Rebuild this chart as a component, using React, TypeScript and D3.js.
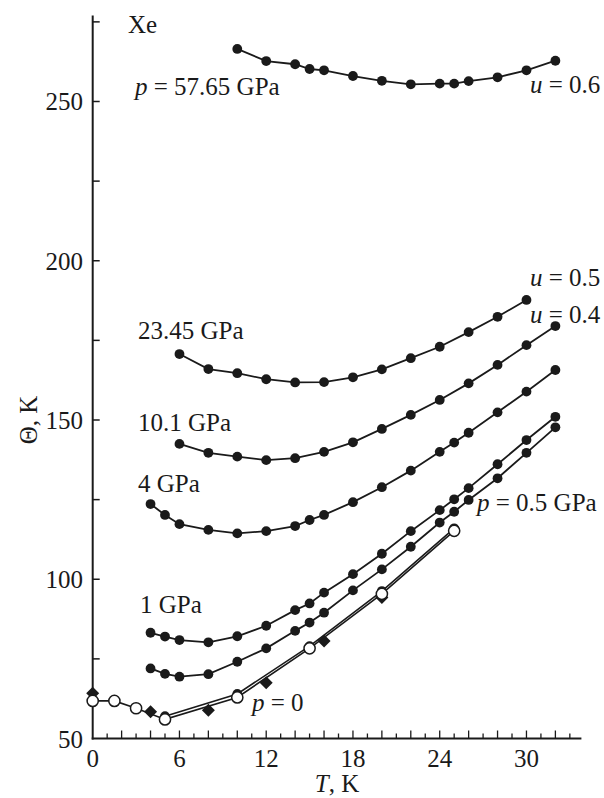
import * as d3 from 'd3';

// Debye temperature of Xe vs T for several pressures
const tFull = [4, 5, 6, 8, 10, 12, 14, 15, 16, 18, 20, 22, 24, 25, 26, 28, 30, 32];
const theta05 = [72.0, 70.3, 69.4, 70.2, 74.1, 78.3, 83.8, 86.4, 89.5, 96.5, 103.1, 110.2, 117.8, 121.2, 124.9, 131.7, 139.7, 147.7];
const theta1 = [83.2, 82.0, 80.9, 80.2, 82.1, 85.4, 90.3, 92.4, 95.8, 101.6, 108.0, 115.1, 121.7, 125.1, 128.6, 136.1, 143.7, 151.0];
const theta4 = [123.6, 120.2, 117.3, 115.5, 114.4, 115.1, 116.7, 118.6, 120.2, 124.2, 128.9, 134.1, 140.0, 142.9, 146.0, 152.4, 158.9, 165.7];

const t101 = [6, 8, 10, 12, 14, 16, 18, 20, 22, 24, 26, 28, 30, 32];
const theta101 = [142.5, 139.7, 138.5, 137.4, 138.0, 140.0, 143.0, 147.2, 151.6, 156.3, 161.5, 167.3, 173.5, 179.5];

const t2345 = [6, 8, 10, 12, 14, 16, 18, 20, 22, 24, 26, 28, 30];
const theta2345 = [170.7, 166.0, 164.7, 162.8, 161.8, 161.9, 163.4, 165.9, 169.4, 173.0, 177.6, 182.4, 187.7];

const t5765 = [10, 12, 14, 15, 16, 18, 20, 22, 24, 25, 26, 28, 30, 32];
const theta5765 = [266.5, 262.7, 261.7, 260.2, 259.8, 258.0, 256.5, 255.4, 255.6, 255.6, 256.4, 257.6, 259.8, 262.8];

// p = 0: two calculations (filled / open) and experiment (diamonds)
const tZeroFilled = [5, 10, 15, 20, 25];
const thetaZeroFilled = [57.0, 64.0, 79.0, 96.3, 116.0];
const tZeroOpen = [0, 1.5, 3, 5, 10, 15, 20, 25];
const thetaZeroOpen = [61.8, 61.8, 59.5, 56.0, 62.9, 78.3, 95.4, 115.2];
const tExp = [0, 4, 8, 12, 16, 20];
const thetaExp = [64.2, 58.4, 58.9, 67.5, 80.6, 94.3];

const xTickLabels = [0, 6, 12, 18, 24, 30];
const yTickLabels = [50, 100, 150, 200, 250];

const W = 604;
const H = 798;
const FONT = "'Liberation Serif', 'Times New Roman', serif";
const FS = 25;
const INK = '#1a1a1a';
const textStyle = { fontFamily: FONT, fontSize: FS };

const x = d3.scaleLinear().domain([0, 34]).range([92.7, 584.3]);
const y = d3.scaleLinear().domain([50, 277]).range([738.5, 15.5]);

type Pt = [number, number];
const zip = (ts: number[], vs: number[]): Pt[] => ts.map((t, i) => [t, vs[i]]);

const line = d3
  .line<Pt>()
  .x(d => x(d[0]))
  .y(d => y(d[1]));

const filledSeries = [
  zip(tFull, theta05),
  zip(tFull, theta1),
  zip(tFull, theta4),
  zip(t101, theta101),
  zip(t2345, theta2345),
  zip(t5765, theta5765),
];

function Label({ px, py, parts }: { px: number; py: number; parts: [string, boolean][] }) {
  return (
    <text x={px} y={py} style={textStyle} fill={INK}>
      {parts.map(([s, it], i) => (
        <tspan key={i} style={{ fontStyle: it ? 'italic' : 'normal' }}>
          {s}
        </tspan>
      ))}
    </text>
  );
}

export default function App() {
  const x0 = x(0);
  const y0 = y(50);
  const xEnd = x(33.8);
  const yTop = y(277);

  const yMinor = d3.range(75, 276, 25);
  const xMinor = d3.range(1, 34, 1);

  const zeroFilled = zip(tZeroFilled, thetaZeroFilled);
  const zeroOpen = zip(tZeroOpen, thetaZeroOpen);
  const exp = zip(tExp, thetaExp);

  return (
    <svg
      width={W}
      height={H}
      style={{ position: 'absolute', left: 0, top: 0, background: '#fff' }}
    >
      {/* axes */}
      <g stroke={INK} strokeWidth={2} fill="none">
        <line x1={x0} y1={yTop} x2={x0} y2={y0 + 1} />
        <line x1={x0 - 1} y1={y0} x2={xEnd} y2={y0} />
        {yMinor.map(v => (
          <line key={v} x1={x0} x2={x0 + 7} y1={y(v)} y2={y(v)} strokeWidth={1.5} />
        ))}
        {xMinor.map(t => (
          <line key={t} x1={x(t)} x2={x(t)} y1={y0} y2={y0 - (t % 2 === 0 ? 8 : 5)} strokeWidth={1.3} />
        ))}
      </g>
      {yTickLabels.map(v => (
        <text key={v} x={83} y={y(v) + 9} textAnchor="end" style={textStyle} fill={INK}>
          {v}
        </text>
      ))}
      {xTickLabels.map(t => (
        <text key={t} x={x(t)} y={767} textAnchor="middle" style={textStyle} fill={INK}>
          {t}
        </text>
      ))}
      <text x={337} y={792} textAnchor="middle" style={textStyle} fill={INK}>
        <tspan style={{ fontStyle: 'italic' }}>T</tspan>, K
      </text>
      <text
        transform={`translate(37,420) rotate(-90)`}
        textAnchor="middle"
        style={textStyle}
        fill={INK}
      >
        Θ, K
      </text>

      {/* curves with filled circles */}
      {filledSeries.map((s, i) => (
        <g key={i}>
          <path d={line(s) ?? ''} fill="none" stroke={INK} strokeWidth={1.8} />
          {s.map((d, j) => (
            <circle key={j} cx={x(d[0])} cy={y(d[1])} r={4.9} fill={INK} />
          ))}
        </g>
      ))}

      {/* p = 0 */}
      <path d={line(zeroFilled) ?? ''} fill="none" stroke={INK} strokeWidth={1.6} />
      {zeroFilled.map((d, j) => (
        <circle key={j} cx={x(d[0])} cy={y(d[1])} r={4.9} fill={INK} />
      ))}
      <path d={line(zeroOpen) ?? ''} fill="none" stroke={INK} strokeWidth={1.6} />
      {exp.map((d, j) => {
        const cx = x(d[0]);
        const cy = y(d[1]);
        const r = 6.5;
        return (
          <path
            key={j}
            d={`M${cx},${cy - r}L${cx + r},${cy}L${cx},${cy + r}L${cx - r},${cy}Z`}
            fill={INK}
          />
        );
      })}
      {zeroOpen.map((d, j) => (
        <circle
          key={j}
          cx={x(d[0])}
          cy={y(d[1])}
          r={5.6}
          fill="#fff"
          stroke={INK}
          strokeWidth={1.5}
        />
      ))}

      {/* annotations */}
      <Label px={128} py={33} parts={[['Xe', false]]} />
      <Label px={135} py={95} parts={[['p', true], [' = 57.65 GPa', false]]} />
      <Label px={530} py={93} parts={[['u', true], [' = 0.6', false]]} />
      <Label px={530} py={286} parts={[['u', true], [' = 0.5', false]]} />
      <Label px={530} py={323} parts={[['u', true], [' = 0.4', false]]} />
      <Label px={138} py={339} parts={[['23.45 GPa', false]]} />
      <Label px={138} py={431} parts={[['10.1 GPa', false]]} />
      <Label px={138} py={492} parts={[['4 GPa', false]]} />
      <Label px={140} py={613} parts={[['1 GPa', false]]} />
      <Label px={477} py={511} parts={[['p', true], [' = 0.5 GPa', false]]} />
      <Label px={252} py={711} parts={[['p', true], [' = 0', false]]} />
    </svg>
  );
}
